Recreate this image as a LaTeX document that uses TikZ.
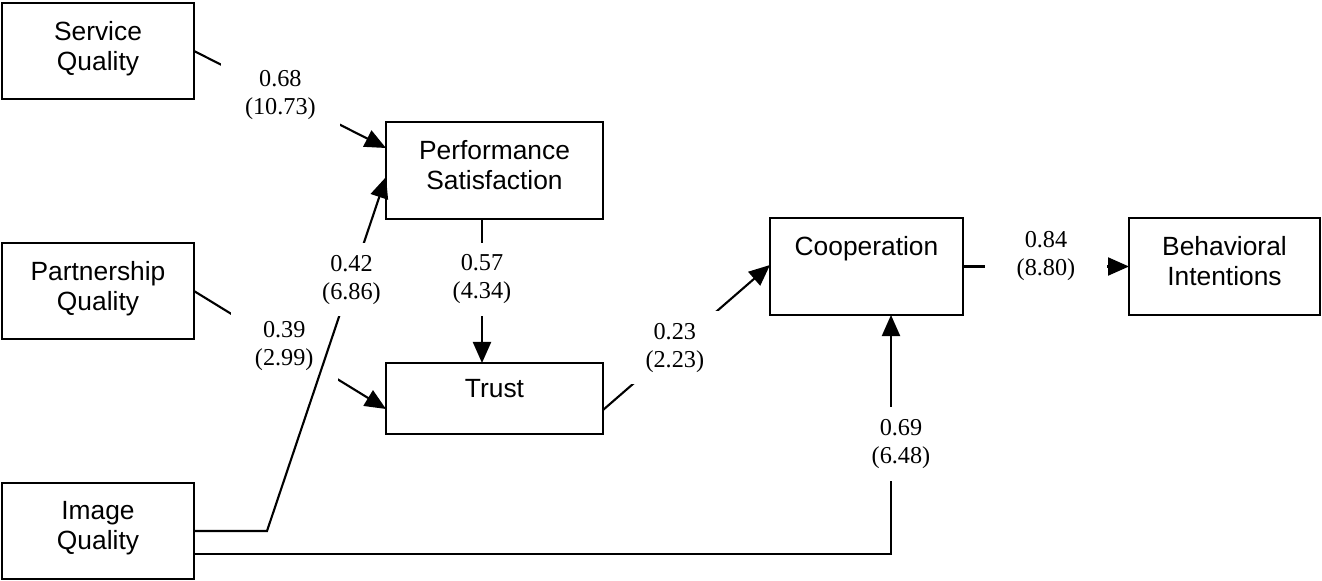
\documentclass[tikz,border=0pt]{standalone}
\usepackage{fontspec}
\setmainfont{Liberation Serif}
\setsansfont{Liberation Sans}
\usetikzlibrary{positioning,arrows.meta}

\begin{document}
\begin{tikzpicture}[>={Triangle[length=0.21cm,width=0.18cm]}, line width=0.6pt,
    box/.style={draw, inner sep=0, outer sep=0, minimum width=1.92cm, minimum height=0.96cm},
    boxtext/.style={inner sep=0, outer sep=0, align=center, font=\sffamily\fontsize{7.5}{8.54}\selectfont},
    lbl/.style={fill=white, inner xsep=0.24cm, inner ysep=0.12cm, align=center, font=\fontsize{6.9}{7.97}\selectfont}]
  \useasboundingbox (0,0) rectangle (13.22,5.80);
  \foreach \n/\y/\t in {sq/5.29/Service, pq/2.89/Partnership, iq/0.49/Image}{
      \node[box] (\n) at (0.98,\y) {};
      \node[boxtext, below=0.18cm of \n.north] {\t\\Quality};}
  \node[box, minimum width=2.17cm, minimum height=0.97cm] (ps) at (4.945,4.095) {};
  \node[boxtext, below=0.18cm of ps.north] {Performance\\Satisfaction};
  \node[box, minimum width=2.17cm, minimum height=0.71cm] (tr) at (4.945,1.815) {};
  \node[boxtext, below=0.16cm of tr.north] {Trust};
  \node[box, minimum width=1.93cm, minimum height=0.97cm] (coop) at (8.665,3.135) {};
  \node[boxtext, below=0.18cm of coop.north] {Cooperation};
  \node[box, minimum width=1.91cm, minimum height=0.97cm] (bi) at (12.245,3.135) {};
  \node[boxtext, below=0.18cm of bi.north] {Behavioral\\Intentions};
  \draw[->] (sq.east) -- node[lbl, pos=0.45] {0.68\\(10.73)} ([yshift=0.225cm]ps.west);
  \draw[->] (pq.east) -- node[lbl, pos=0.47] {0.39\\(2.99)} ([yshift=-0.105cm]tr.west);
  \draw[->] (iq.east) -- ++(0.73,0) -- node[lbl, pos=0.71] {0.42\\(6.86)} ([yshift=-0.065cm]ps.west);
  \draw[->] ([xshift=-0.125cm]ps.south) -- node[lbl, pos=0.42] {0.57\\(4.34)} ([xshift=-0.125cm]tr.north);
  \draw[->] ([yshift=-0.115cm]tr.east) -- node[lbl, pos=0.43] {0.23\\(2.23)} ([yshift=0.015cm]coop.west);
  \draw[->] ([yshift=-0.23cm]iq.east) -| node[lbl, pos=0.73, xshift=0.1cm] {0.69\\(6.48)} ([xshift=0.245cm]coop.south);
  \draw[->] (coop.east) -- node[lbl, yshift=0.1cm, inner xsep=0.32cm] {0.84\\(8.80)} (bi.west);
\end{tikzpicture}
\end{document}
